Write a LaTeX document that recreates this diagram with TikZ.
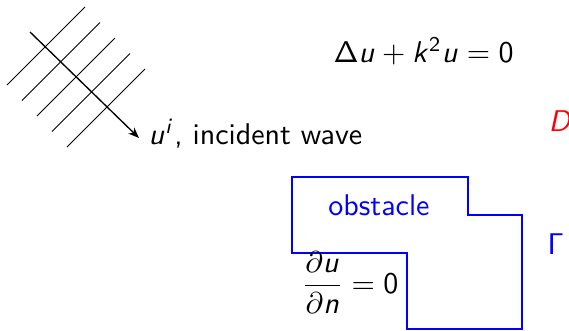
\documentclass[tikz,border=0pt]{standalone}
\usepackage{amsmath}
\usepackage{tikz}
\usetikzlibrary{positioning,arrows.meta}
\usepackage{xcolor}
% sans serif math letters and digits, as on slides
\DeclareSymbolFont{sfslanted}{OT1}{cmss}{m}{sl}
\DeclareSymbolFont{sfupright}{OT1}{cmss}{m}{n}
\DeclareMathSymbol{u}{\mathalpha}{sfslanted}{`u}
\DeclareMathSymbol{k}{\mathalpha}{sfslanted}{`k}
\DeclareMathSymbol{n}{\mathalpha}{sfslanted}{`n}
\DeclareMathSymbol{i}{\mathalpha}{sfslanted}{`i}
\DeclareMathSymbol{D}{\mathalpha}{sfslanted}{`D}
\DeclareMathSymbol{0}{\mathalpha}{sfupright}{`0}
\DeclareMathSymbol{2}{\mathalpha}{sfupright}{`2}
\DeclareMathSymbol{\Gamma}{\mathalpha}{sfupright}{"00}
\DeclareMathSymbol{\Delta}{\mathalpha}{sfupright}{"01}
\definecolor{figobstacle}{rgb}{0, 0, 1}
\definecolor{figdomain}{rgb}{1, 0, 0}
\tikzset{
  figwave/.style={draw=black, line width=0.35pt},
  figray/.style={draw=black, line width=0.45pt, -{Stealth[length=3.6pt,width=2.8pt]}},
  figboundary/.style={draw=figobstacle, line width=0.7pt},
  figtext/.style={inner sep=0pt, text=black}
}

\begin{document}
\begin{tikzpicture}[x=0.3333pt,y=-0.3333pt,font=\sffamily]
  \useasboundingbox (0,0) rectangle (569,331);
  % plane wave fronts
  \foreach \i in {0,...,4} {
    \draw[figwave] (7+15*\i,85+15.5*\i) -- ++(78,-78);
  }
  % direction of incidence
  \coordinate (src) at (30,32);
  \coordinate (tip) at (139,138);
  \draw[figray] (src) -- (tip);
  \node[figtext,anchor=base west] (incident) at (148,144) {$u^i$, incident wave};
  % Helmholtz equation and domain
  \node[figtext,anchor=base west] (helmholtz) at (333,62) {$\Delta u + k^2 u = 0$};
  \node[figtext,anchor=base west,text=figdomain] (domain) at (548,131) {$D$};
  % obstacle
  \draw[figboundary] (292,177) -- (468,177) -- (468,215) -- (522,215) -- (522,329)
    -- (407,329) -- (407,253) -- (292,253) -- cycle;
  \node[figtext,anchor=base,text=figobstacle] (obstacle) at (379,215) {obstacle};
  \node[figtext,anchor=base west,text=figobstacle] (boundary) at (547,254) {$\Gamma$};
  \node[figtext] (neumann) at (350,283) {$\displaystyle\frac{\partial u}{\partial n} = 0$};
\end{tikzpicture}
\end{document}
